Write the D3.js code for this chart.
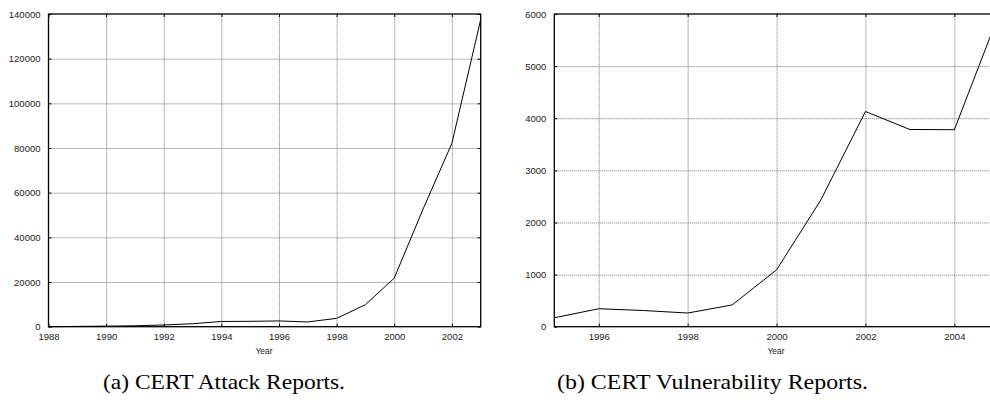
<!DOCTYPE html>
<html>
<head>
<meta charset="utf-8">
<script src="https://cdn.jsdelivr.net/npm/d3@7"></script>
<style>
  body { margin: 0; background: #fff; }
  svg { display: block; }
  .tick text { font-family: "Liberation Sans", Arial, sans-serif; font-size: 9.5px; fill: #222; }
  .grid line { stroke: #707070; stroke-dasharray: 1,1; stroke-width: 1; }
  .grid path { display: none; }
  .ticks path { display: none; }
  .ticks line { stroke: #000; }
  .frame { fill: none; stroke: #000; stroke-width: 1.3; }
  .series { fill: none; stroke: #000; stroke-width: 1; }
  .xlabel { font-family: "Liberation Sans", Arial, sans-serif; font-size: 8.5px; fill: #222; }
  .caption { font-family: "Liberation Serif", "DejaVu Serif", serif; font-size: 22px; fill: #000; }
</style>
</head>
<body>
<svg id="chart" width="990" height="403"></svg>
<script>
// CERT attack (incident) reports per year
const attackYears = [1988, 1989, 1990, 1991, 1992, 1993, 1994, 1995, 1996, 1997, 1998, 1999, 2000, 2001, 2002, 2003];
const attackCounts = [6, 132, 252, 406, 773, 1334, 2340, 2412, 2573, 2134, 3734, 9859, 21756, 52658, 82094, 137529];
const attackXTicks = [1988, 1990, 1992, 1994, 1996, 1998, 2000, 2002];
const attackYTicks = [0, 20000, 40000, 60000, 80000, 100000, 120000, 140000];

// CERT vulnerability reports per year
const vulnYears = [1995, 1996, 1997, 1998, 1999, 2000, 2001, 2002, 2003, 2004, 2005];
const vulnCounts = [171, 345, 311, 262, 417, 1090, 2437, 4129, 3784, 3780, 5990];
const vulnXTicks = [1996, 1998, 2000, 2002, 2004];
const vulnYTicks = [0, 1000, 2000, 3000, 4000, 5000, 6000];

const svg = d3.select('#chart');

function drawPanel(opts) {
  const { left, top, width, height, xDomain, yDomain, xTicks, yTicks, years, values, caption, captionX, captionLen } = opts;

  const x = d3.scaleLinear().domain(xDomain).range([0, width]);
  const y = d3.scaleLinear().domain(yDomain).range([height, 0]);

  const g = svg.append('g').attr('transform', `translate(${left}, ${top})`);

  // dotted grid
  g.append('g')
    .attr('class', 'grid')
    .attr('transform', `translate(0, ${height})`)
    .call(d3.axisBottom(x).tickValues(xTicks.filter(d => d !== xDomain[0])).tickSize(-height).tickFormat(''));
  g.append('g')
    .attr('class', 'grid')
    .call(d3.axisLeft(y).tickValues(yTicks.filter(d => d !== yDomain[0] && d !== yDomain[1])).tickSize(-width).tickFormat(''));

  // inward tick marks on all four sides
  g.append('g')
    .attr('class', 'ticks')
    .attr('transform', `translate(0, ${height})`)
    .call(d3.axisBottom(x).tickValues(xTicks).tickSizeInner(-3).tickSizeOuter(0).tickPadding(7).tickFormat(d3.format('d')));
  g.append('g')
    .attr('class', 'ticks')
    .call(d3.axisTop(x).tickValues(xTicks).tickSizeInner(-3).tickSizeOuter(0).tickFormat(''));
  g.append('g')
    .attr('class', 'ticks')
    .call(d3.axisLeft(y).tickValues(yTicks).tickSizeInner(-3).tickSizeOuter(0).tickPadding(8).tickFormat(d3.format('d')));
  g.append('g')
    .attr('class', 'ticks')
    .attr('transform', `translate(${width}, 0)`)
    .call(d3.axisRight(y).tickValues(yTicks).tickSizeInner(-3).tickSizeOuter(0).tickFormat(''));

  g.append('rect')
    .attr('class', 'frame')
    .attr('width', width)
    .attr('height', height);

  const line = d3.line()
    .x((d, i) => x(years[i]))
    .y(d => y(d));

  g.append('path')
    .datum(values)
    .attr('class', 'series')
    .attr('d', line);

  g.append('text')
    .attr('class', 'xlabel')
    .attr('x', opts.yearX - left)
    .attr('y', height + 27)
    .attr('text-anchor', 'middle')
    .text('Year');

  svg.append('text')
    .attr('class', 'caption')
    .attr('x', captionX)
    .attr('y', 389)
    .attr('textLength', captionLen)
    .attr('lengthAdjust', 'spacingAndGlyphs')
    .text(caption);
}

drawPanel({
  left: 48.5, top: 14, width: 432.2, height: 312.7,
  xDomain: [1988, 2003], yDomain: [0, 140000],
  xTicks: attackXTicks, yTicks: attackYTicks,
  years: attackYears, values: attackCounts,
  yearX: 264,
  caption: '(a) CERT Attack Reports.', captionX: 103, captionLen: 242
});

drawPanel({
  left: 554.3, top: 14, width: 444.5, height: 312.7,
  xDomain: [1995, 2005], yDomain: [0, 6000],
  xTicks: vulnXTicks, yTicks: vulnYTicks,
  years: vulnYears, values: vulnCounts,
  yearX: 776,
  caption: '(b) CERT Vulnerability Reports.', captionX: 557, captionLen: 311
});
</script>
</body>
</html>
